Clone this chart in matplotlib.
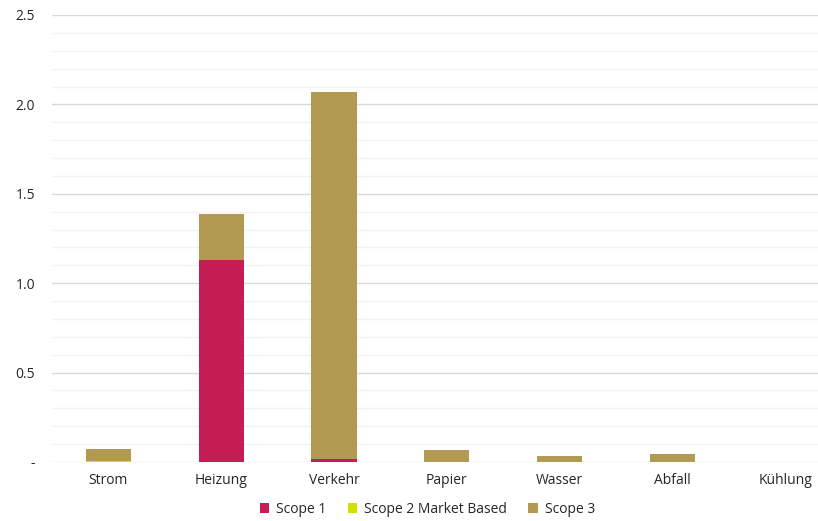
import numpy as np
import matplotlib.pyplot as plt
from matplotlib.ticker import MultipleLocator, FixedFormatter, FixedLocator

categories = ["Strom", "Heizung", "Verkehr", "Papier", "Wasser", "Abfall", "Kühlung"]
scope1 = [0.0, 1.13, 0.015, 0.0, 0.0, 0.0, 0.0]
scope2 = [0.008, 0.0, 0.0, 0.0, 0.0, 0.0, 0.0]
scope3 = [0.065, 0.257, 2.055, 0.067, 0.034, 0.045, 0.0]
ytick_vals = [0, 0.5, 1.0, 1.5, 2.0, 2.5]
ytick_labels = ["-", "0.5", "1.0", "1.5", "2.0", "2.5"]

series = [("Scope 1", scope1, "#C41E55"),
          ("Scope 2 Market Based", scope2, "#D4E000"),
          ("Scope 3", scope3, "#B39A52")]

plt.rcParams['font.family'] = ['Open Sans', 'DejaVu Sans']

fig = plt.figure(figsize=(8.18, 5.21), dpi=100)
ax = fig.add_axes([52 / 818, 59 / 521, 1 - 52 / 818, 447 / 521])

x = np.arange(len(categories))
bottom = np.zeros(len(categories))
for name, vals, color in series:
    vals = np.array(vals)
    ax.bar(x, vals, 0.4, bottom=bottom, color=color, label=name,
           linewidth=0, zorder=3)
    bottom += vals

ax.set_xlim(-0.5, 6.29)
ax.set_ylim(0, 2.5)
ax.yaxis.set_major_locator(FixedLocator(ytick_vals))
ax.yaxis.set_major_formatter(FixedFormatter(ytick_labels))
ax.yaxis.set_minor_locator(MultipleLocator(0.1))
ax.grid(True, which="major", axis="y", color="#d9d9d9", linewidth=1, zorder=0)
ax.grid(True, which="minor", axis="y", color="#f2f2f2", linewidth=1, zorder=0)
ax.set_xticks(x)
ax.set_xticklabels(categories)
for s in ax.spines.values():
    s.set_visible(False)
ax.tick_params(axis="both", which="both", length=0, labelsize=10, colors="#262626")
ax.tick_params(axis="y", pad=12)
ax.tick_params(axis="x", pad=8)

ax.legend(loc="lower center", bbox_to_anchor=(0.49, -0.15), ncol=3, frameon=False,
          fontsize=10, handlelength=0.7, handleheight=0.7, handletextpad=0.5,
          columnspacing=1.5, labelcolor="#262626")

fig.savefig("out.png", dpi=100)
